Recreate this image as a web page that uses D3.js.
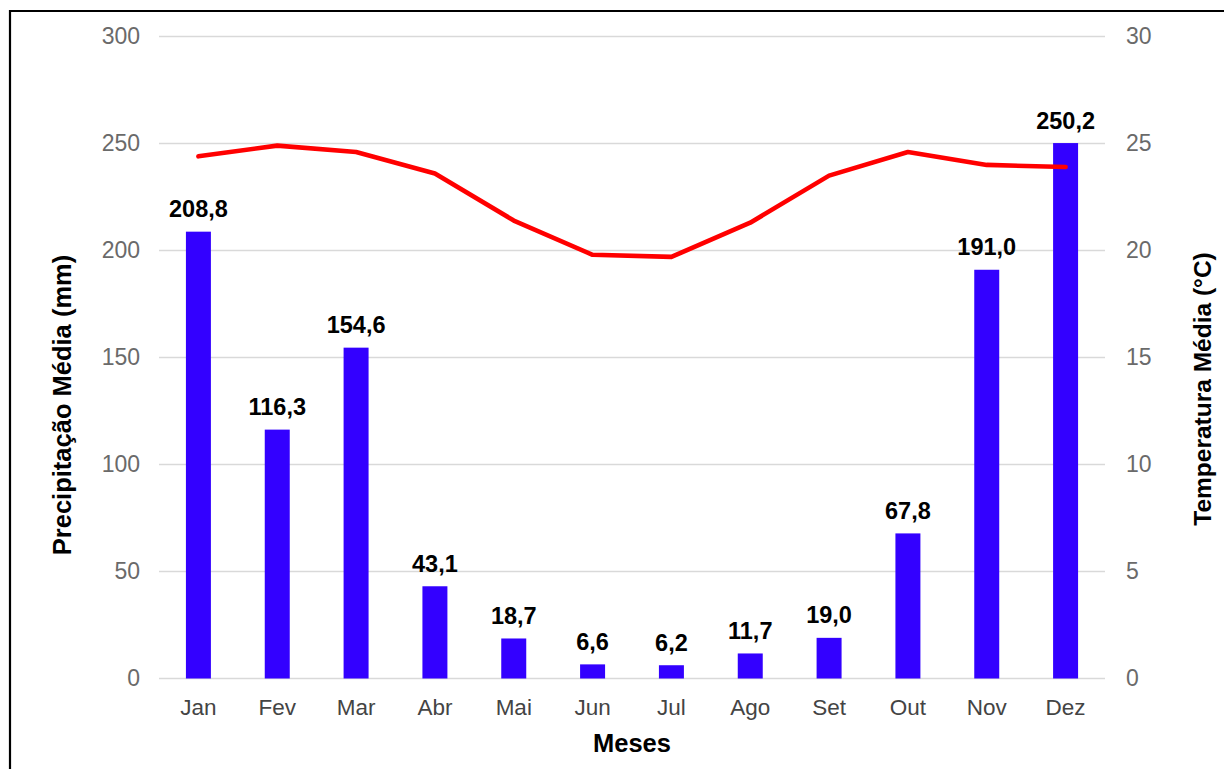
<!DOCTYPE html>
<html lang="pt">
<head>
<meta charset="utf-8">
<script src="https://cdn.jsdelivr.net/npm/d3@7"></script>
<style>
  html, body { margin: 0; padding: 0; background: #fff; }
  svg { display: block; font-family: "Liberation Sans", Arial, sans-serif; }
</style>
</head>
<body>
<svg id="chart" width="1224" height="769"></svg>
<script>
// Climograma: precipitação média mensal (barras) e temperatura média (linha)
const months = ["Jan", "Fev", "Mar", "Abr", "Mai", "Jun", "Jul", "Ago", "Set", "Out", "Nov", "Dez"];
const precipitation = [208.8, 116.3, 154.6, 43.1, 18.7, 6.6, 6.2, 11.7, 19.0, 67.8, 191.0, 250.2];
const temperature = [24.4, 24.9, 24.6, 23.6, 21.4, 19.8, 19.7, 21.3, 23.5, 24.6, 24.0, 23.9];
const precipTicks = [0, 50, 100, 150, 200, 250, 300];
const tempTicks = [0, 5, 10, 15, 20, 25, 30];

const svg = d3.select("#chart");

// Moldura (cortada à direita e embaixo)
svg.append("path")
  .attr("d", "M10,790 V11 H1240")
  .attr("fill", "none")
  .attr("stroke", "#000")
  .attr("stroke-width", 2.2);

const plot = { left: 159, right: 1105, top: 36.5, bottom: 678.5 };

const x = d3.scaleBand()
  .domain(months)
  .range([plot.left, plot.right])
  .paddingInner(0.683)
  .paddingOuter(0.3415);

const xPoint = d => x(d) + x.bandwidth() / 2;

const yP = d3.scaleLinear().domain([0, 300]).range([plot.bottom, plot.top]);
const yT = d3.scaleLinear().domain([0, 30]).range([plot.bottom, plot.top]);

// Linhas de grade
svg.append("g")
  .selectAll("line")
  .data(precipTicks)
  .join("line")
  .attr("x1", plot.left)
  .attr("x2", plot.right)
  .attr("y1", d => yP(d))
  .attr("y2", d => yP(d))
  .attr("stroke", "#d9d9d9")
  .attr("stroke-width", 1.6);

// Eixo esquerdo (mm)
const leftAxis = svg.append("g")
  .attr("transform", `translate(${plot.left - 19},0)`)
  .call(d3.axisLeft(yP).tickValues(precipTicks).tickSize(0).tickPadding(0));
leftAxis.select(".domain").remove();
leftAxis.selectAll("text")
  .attr("fill", "#6a6a6a")
  .attr("font-size", 23)
  .attr("font-family", "Liberation Sans, Arial, sans-serif");

// Eixo direito (°C)
const rightAxis = svg.append("g")
  .attr("transform", `translate(${plot.right + 21},0)`)
  .call(d3.axisRight(yT).tickValues(tempTicks).tickSize(0).tickPadding(0));
rightAxis.select(".domain").remove();
rightAxis.selectAll("text")
  .attr("fill", "#6a6a6a")
  .attr("font-size", 23)
  .attr("font-family", "Liberation Sans, Arial, sans-serif");

// Eixo dos meses
const bottomAxis = svg.append("g")
  .attr("transform", `translate(0,${plot.bottom})`)
  .call(d3.axisBottom(x).tickSize(0).tickPadding(0));
bottomAxis.select(".domain").remove();
bottomAxis.selectAll("text")
  .attr("dy", null)
  .attr("y", 36)
  .attr("fill", "#444")
  .attr("font-size", 22.5)
  .attr("font-family", "Liberation Sans, Arial, sans-serif");

// Barras de precipitação
svg.append("g")
  .selectAll("rect")
  .data(months.map((m, i) => ({ m, v: precipitation[i] })))
  .join("rect")
  .attr("x", d => x(d.m))
  .attr("width", x.bandwidth())
  .attr("y", d => yP(d.v))
  .attr("height", d => yP(0) - yP(d.v))
  .attr("fill", "#3300ff");

// Rótulos de valor
const fmt = v => v.toFixed(1).replace(".", ",");
svg.append("g")
  .selectAll("text")
  .data(months.map((m, i) => ({ m, v: precipitation[i] })))
  .join("text")
  .attr("x", d => xPoint(d.m))
  .attr("y", d => yP(d.v) - 14.5)
  .attr("text-anchor", "middle")
  .attr("font-weight", "bold")
  .attr("font-size", 23.5)
  .attr("fill", "#000")
  .text(d => fmt(d.v));

// Linha de temperatura
const line = d3.line()
  .x((d, i) => xPoint(months[i]))
  .y(d => yT(d));

svg.append("path")
  .datum(temperature)
  .attr("d", line)
  .attr("fill", "none")
  .attr("stroke", "#ff0000")
  .attr("stroke-width", 4.6)
  .attr("stroke-linejoin", "round")
  .attr("stroke-linecap", "round");

// Títulos dos eixos
svg.append("text")
  .attr("x", (plot.left + plot.right) / 2)
  .attr("y", 752)
  .attr("text-anchor", "middle")
  .attr("font-weight", "bold")
  .attr("font-size", 25.5)
  .attr("fill", "#000")
  .text("Meses");

svg.append("text")
  .attr("transform", "translate(71,405) rotate(-90)")
  .attr("text-anchor", "middle")
  .attr("font-weight", "bold")
  .attr("font-size", 25.5)
  .attr("fill", "#000")
  .text("Precipitação Média (mm)");

svg.append("text")
  .attr("transform", "translate(1211,389) rotate(-90)")
  .attr("text-anchor", "middle")
  .attr("font-weight", "bold")
  .attr("font-size", 24.5)
  .attr("fill", "#000")
  .text("Temperatura Média (°C)");
</script>
</body>
</html>
